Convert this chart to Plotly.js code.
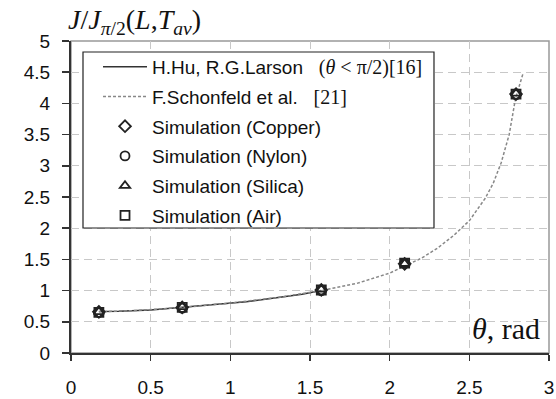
<!DOCTYPE html>
<html><head><meta charset="utf-8">
<script src="https://cdn.plot.ly/plotly-3.0.1.min.js"></script>
<style>html,body{margin:0;padding:0;background:#fff;}#chart{width:556px;height:399px;}</style>
</head><body><div id="chart"></div>
<script>
// Hu & Larson curve (theta < pi/2)
const thetaHu = [0.175, 0.3, 0.5, 0.7, 0.9, 1.1, 1.3, 1.45, 1.571];
const jHu     = [0.665, 0.67, 0.69, 0.73, 0.77, 0.82, 0.89, 0.94, 1.0];
// Schonfeld et al. curve
const thetaSch = [0.175, 0.4, 0.7, 1.0, 1.3, 1.571, 1.8, 2.0, 2.1, 2.2, 2.3, 2.4, 2.5, 2.6, 2.65, 2.7, 2.75, 2.79, 2.837];
const jSch     = [0.66, 0.68, 0.73, 0.80, 0.89, 1.0, 1.12, 1.28, 1.40, 1.52, 1.68, 1.88, 2.12, 2.48, 2.72, 3.05, 3.5, 4.08, 4.48];
// Simulations
const thetaSim = [0.175, 0.698, 1.571, 2.094, 2.793];
const jCopper  = [0.66, 0.73, 1.01, 1.43, 4.15];
const jNylon   = [0.65, 0.72, 1.00, 1.44, 4.14];
const jSilica  = [0.66, 0.74, 1.02, 1.43, 4.16];
const jAir     = [0.65, 0.73, 1.01, 1.44, 4.15];
const xTicks = [0, 0.5, 1, 1.5, 2, 2.5, 3];
const yTicks = [0, 0.5, 1, 1.5, 2, 2.5, 3, 3.5, 4, 4.5, 5];

const serif = "Liberation Serif, Times New Roman, serif";
const sans = "Liberation Sans, Arial, sans-serif";
const mk = (sym) => ({symbol: sym, size: 9, color: '#222', line: {color: '#222', width: 1.8}});

const traces = [
  {x: thetaHu, y: jHu, mode: 'lines', line: {color: '#333', width: 1.5},
   name: 'H.Hu, R.G.Larson&nbsp;&nbsp;&nbsp;<span style="font-family:Liberation Serif;font-size:20px">(<i>θ</i> &lt; π/2)[16]</span>', legendgroup: 'a'},
  {x: thetaSch, y: jSch, mode: 'lines', line: {color: '#888', width: 1.5, dash: '3px,2px'},
   name: 'F.Schonfeld et al.&nbsp;&nbsp;&nbsp;<span style="font-family:Liberation Serif;font-size:20px">[21]</span>', legendgroup: 'b'},
  {x: thetaSim, y: jCopper, mode: 'markers', marker: mk('diamond-open'), name: 'Simulation (Copper)', legendgroup: 'c'},
  {x: thetaSim, y: jNylon, mode: 'markers', marker: mk('circle-open'), name: 'Simulation (Nylon)', legendgroup: 'd'},
  {x: thetaSim, y: jSilica, mode: 'markers', marker: mk('triangle-up-open'), name: 'Simulation (Silica)', legendgroup: 'e'},
  {x: thetaSim, y: jAir, mode: 'markers', marker: mk('square-open'), name: 'Simulation (Air)', legendgroup: 'f'}
];

const layout = {
  width: 556, height: 399,
  margin: {l: 71, r: 7, t: 41, b: 46},
  paper_bgcolor: '#fff', plot_bgcolor: '#fff',
  showlegend: true,
  legend: {x: 0.0565, y: 0.9776, xanchor: 'left', yanchor: 'top',
    bgcolor: 'rgba(0,0,0,0)', borderwidth: 0,
    font: {family: sans, size: 19, color: '#111'},
    itemwidth: 44, tracegroupgap: 2, traceorder: 'grouped'},
  xaxis: {range: [0, 3], tickvals: xTicks, ticktext: xTicks.map(String),
    showgrid: true, gridcolor: '#c8c8c8', griddash: '8px,5px', gridwidth: 1,
    showline: true, linecolor: '#333', linewidth: 2,
    ticks: 'outside', ticklen: 6, tickcolor: '#333', tickwidth: 1.5,
    ticklabelstandoff: 10,
    tickfont: {family: sans, size: 19, color: '#111'}, zeroline: false},
  yaxis: {range: [0, 5], tickvals: yTicks, ticktext: yTicks.map(String),
    showgrid: true, gridcolor: '#c8c8c8', griddash: '8px,5px', gridwidth: 1,
    showline: true, linecolor: '#333', linewidth: 2,
    ticks: 'outside', ticklen: 7, tickcolor: '#333', tickwidth: 1.5,
    ticklabelstandoff: 8,
    tickfont: {family: sans, size: 19, color: '#111'}, zeroline: false},
  shapes: [
    {type: 'rect', xref: 'paper', yref: 'paper', x0: 0, x1: 1, y0: 0, y1: 1,
     line: {color: '#999', width: 1.5}, layer: 'below'},
    {type: 'rect', xref: 'paper', yref: 'paper', x0: 0.0251, x1: 0.7594, y0: 0.4006, y1: 0.9647,
     line: {color: '#222', width: 1.2}, fillcolor: '#fff', layer: 'above'}
  ],
  annotations: [
    {xref: 'paper', yref: 'paper', x: -0.01, y: 1, xanchor: 'left', yanchor: 'bottom', yshift: 0,
     showarrow: false, text: '<i>J</i>/<i>J</i><sub><i>π</i>/2</sub>(<i>L</i>,<i>T</i><sub><i>av</i></sub>)',
     font: {family: serif, size: 28, color: '#111'}},
    {xref: 'paper', yref: 'paper', x: 0.985, y: 0.02, xanchor: 'right', yanchor: 'bottom',
     showarrow: false, text: '<i>θ</i>, rad', font: {family: serif, size: 30, color: '#111'}}
  ]
};

Plotly.newPlot('chart', traces, layout, {staticPlot: true, displayModeBar: false});
</script>
</body></html>
